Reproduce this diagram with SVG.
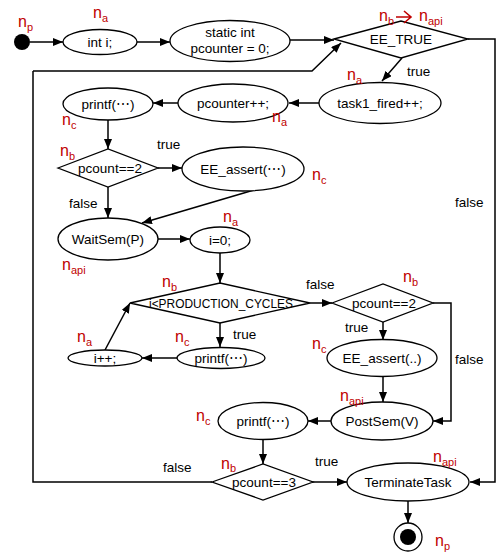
<svg xmlns="http://www.w3.org/2000/svg" width="496" height="552" viewBox="0 0 496 552">
  <defs>
    <marker id="arrow" viewBox="0 0 10 8" refX="10" refY="4" markerWidth="10" markerHeight="8" markerUnits="userSpaceOnUse" orient="auto">
      <path d="M0,0 L10,4 L0,8 Z" fill="#000"/>
    </marker>
    <style>
      .shape { fill: #fff; stroke: #000; stroke-width: 1.3; }
      .edge { fill: none; stroke: #000; stroke-width: 1.5; }
      .arr { marker-end: url(#arrow); }
      .t { font-family: "Liberation Sans", Arial, sans-serif; font-size: 13.5px; fill: #000; text-anchor: middle; }
      .lbl { font-family: "Liberation Sans", Arial, sans-serif; font-size: 13.5px; fill: #000; }
      .red { font-family: "Liberation Sans", Arial, sans-serif; font-size: 16px; fill: #c00000; }
      .sub { font-size: 11px; }
    </style>
  </defs>
  <rect width="496" height="552" fill="#fff"/>

  <!-- connectors -->
  <g id="connectors">
    <line class="edge arr" x1="30" y1="42" x2="63" y2="42"/>
    <line class="edge arr" x1="137" y1="42" x2="170" y2="42"/>
    <line class="edge arr" x1="290" y1="40" x2="334" y2="40"/>
    <path class="edge arr" d="M33,71 L312,71 L341,43"/>
    <line class="edge arr" x1="402" y1="58" x2="382" y2="81"/>
    <line class="edge arr" x1="319" y1="103" x2="289" y2="103"/>
    <line class="edge arr" x1="178" y1="103" x2="153" y2="103"/>
    <line class="edge arr" x1="108" y1="120" x2="108" y2="149"/>
    <line class="edge arr" x1="158" y1="168" x2="182" y2="168"/>
    <line class="edge arr" x1="108" y1="187" x2="108" y2="218"/>
    <line class="edge arr" x1="254" y1="190" x2="142" y2="223"/>
    <line class="edge arr" x1="158" y1="239" x2="190" y2="239"/>
    <line class="edge arr" x1="220" y1="253" x2="220" y2="283"/>
    <line class="edge arr" x1="310" y1="303" x2="332" y2="303"/>
    <line class="edge arr" x1="220" y1="323" x2="220" y2="347"/>
    <line class="edge arr" x1="177" y1="358" x2="142" y2="358"/>
    <line class="edge arr" x1="105" y1="350" x2="130" y2="303"/>
    <line class="edge arr" x1="383" y1="322" x2="383" y2="340"/>
    <path class="edge arr" d="M433,303 L451,303 L451,421 L433,421"/>
    <line class="edge arr" x1="383" y1="377" x2="383" y2="402"/>
    <line class="edge arr" x1="331" y1="421" x2="308" y2="421"/>
    <line class="edge arr" x1="263" y1="439" x2="263" y2="464"/>
    <path class="edge" d="M212,482 L33,482 L33,71"/>
    <line class="edge arr" x1="312" y1="482" x2="347" y2="482"/>
    <path class="edge arr" d="M468,39 L495,39 L495,482 L470,482"/>
    <line class="edge arr" x1="408" y1="501" x2="408" y2="523"/>

    <text class="lbl" x="407" y="76">true</text>
    <text class="lbl" x="455" y="207">false</text>
    <text class="lbl" x="157" y="149">true</text>
    <text class="lbl" x="69" y="208">false</text>
    <text class="lbl" x="306" y="289">false</text>
    <text class="lbl" x="233" y="339">true</text>
    <text class="lbl" x="345" y="332">true</text>
    <text class="lbl" x="455" y="364">false</text>
    <text class="lbl" x="163" y="472">false</text>
    <text class="lbl" x="315" y="466">true</text>
  </g>

  <!-- nodes -->
  <g id="start">
    <circle cx="22" cy="42" r="8" fill="#000"/>
    <text class="red" x="18" y="27">n<tspan class="sub" dy="4">p</tspan></text>
  </g>

  <g id="int-i">
    <ellipse class="shape" cx="100" cy="42" rx="37" ry="12.5"/>
    <text class="t" x="100" y="47">int i;</text>
    <text class="red" x="93" y="18">n<tspan class="sub" dy="4">a</tspan></text>
  </g>

  <g id="static-int">
    <ellipse class="shape" cx="230" cy="41" rx="60" ry="20.5"/>
    <text class="t" x="230" y="37">static int</text>
    <text class="t" x="230" y="53">pcounter = 0;</text>
  </g>

  <g id="ee-true">
    <polygon class="shape" points="334,39 401,21 468,39 401,58"/>
    <text class="t" x="401" y="44">EE_TRUE</text>
    <text class="red" x="379" y="21">n<tspan class="sub" dy="4">b</tspan></text>
    <path d="M396,17 L411,17 M404,11 L411,17 L404,23" fill="none" stroke="#c00000" stroke-width="1.6"/>
    <text class="red" x="419" y="21">n<tspan class="sub" dy="4">api</tspan></text>
  </g>

  <g id="task1-fired">
    <ellipse class="shape" cx="380" cy="103" rx="61" ry="20.5"/>
    <text class="t" x="380" y="108">task1_fired++;</text>
    <text class="red" x="347" y="80">n<tspan class="sub" dy="4">a</tspan></text>
  </g>

  <g id="pcounter-inc">
    <ellipse class="shape" cx="233" cy="103" rx="55" ry="19"/>
    <text class="t" x="233" y="108">pcounter++;</text>
    <text class="red" x="272" y="122">n<tspan class="sub" dy="4">a</tspan></text>
  </g>

  <g id="printf-1">
    <ellipse class="shape" cx="108" cy="104" rx="45" ry="16"/>
    <text class="t" x="108" y="109">printf(⋯)</text>
    <text class="red" x="62" y="125">n<tspan class="sub" dy="4">c</tspan></text>
  </g>

  <g id="pcount-eq2-a">
    <polygon class="shape" points="58,168 108,149 158,168 108,187"/>
    <text class="t" x="110" y="173">pcount==2</text>
    <text class="red" x="60" y="156">n<tspan class="sub" dy="4">b</tspan></text>
  </g>

  <g id="ee-assert-1">
    <ellipse class="shape" cx="243" cy="169" rx="61" ry="22"/>
    <text class="t" x="243" y="174">EE_assert(⋯)</text>
    <text class="red" x="312" y="180">n<tspan class="sub" dy="4">c</tspan></text>
  </g>

  <g id="waitsem">
    <ellipse class="shape" cx="108" cy="239" rx="50" ry="21"/>
    <text class="t" x="108" y="244">WaitSem(P)</text>
    <text class="red" x="62" y="270">n<tspan class="sub" dy="4">api</tspan></text>
  </g>

  <g id="i-zero">
    <ellipse class="shape" cx="220" cy="240" rx="30" ry="13"/>
    <text class="t" x="220" y="245">i=0;</text>
    <text class="red" x="223" y="222">n<tspan class="sub" dy="4">a</tspan></text>
  </g>

  <g id="loop-cond">
    <polygon class="shape" points="130,303 220,283 310,303 220,323"/>
    <text class="t" x="221" y="308" textLength="144" lengthAdjust="spacingAndGlyphs">i&lt;PRODUCTION_CYCLES</text>
    <text class="red" x="162" y="287">n<tspan class="sub" dy="4">b</tspan></text>
  </g>

  <g id="printf-2">
    <ellipse class="shape" cx="221" cy="358" rx="44" ry="10.5"/>
    <text class="t" x="221" y="363">printf(⋯)</text>
    <text class="red" x="175" y="342">n<tspan class="sub" dy="4">c</tspan></text>
  </g>

  <g id="i-inc">
    <ellipse class="shape" cx="105" cy="358" rx="37" ry="8"/>
    <text class="t" x="105" y="363">i++;</text>
    <text class="red" x="77" y="342">n<tspan class="sub" dy="4">a</tspan></text>
  </g>

  <g id="pcount-eq2-b">
    <polygon class="shape" points="332,303 383,284 433,303 383,322"/>
    <text class="t" x="384" y="308">pcount==2</text>
    <text class="red" x="403" y="282">n<tspan class="sub" dy="4">b</tspan></text>
  </g>

  <g id="ee-assert-2">
    <ellipse class="shape" cx="382" cy="358" rx="55" ry="18.5"/>
    <text class="t" x="382" y="363">EE_assert(..)</text>
    <text class="red" x="312" y="349">n<tspan class="sub" dy="4">c</tspan></text>
  </g>

  <g id="postsem">
    <ellipse class="shape" cx="382" cy="421" rx="51" ry="19"/>
    <text class="t" x="382" y="426">PostSem(V)</text>
    <text class="red" x="340" y="401">n<tspan class="sub" dy="4">api</tspan></text>
  </g>

  <g id="printf-3">
    <ellipse class="shape" cx="263" cy="421" rx="45" ry="18.5"/>
    <text class="t" x="263" y="426">printf(⋯)</text>
    <text class="red" x="196" y="421">n<tspan class="sub" dy="4">c</tspan></text>
  </g>

  <g id="pcount-eq3">
    <polygon class="shape" points="212,482 263,464 313,482 263,500"/>
    <text class="t" x="264" y="487">pcount==3</text>
    <text class="red" x="221" y="469">n<tspan class="sub" dy="3">b</tspan></text>
  </g>

  <g id="terminate-task">
    <ellipse class="shape" cx="408" cy="482" rx="61" ry="19"/>
    <text class="t" x="408" y="487">TerminateTask</text>
    <text class="red" x="433" y="462">n<tspan class="sub" dy="4">api</tspan></text>
  </g>

  <g id="end">
    <circle cx="408" cy="537" r="14" fill="#fff" stroke="#000" stroke-width="1.3"/>
    <circle cx="408" cy="537" r="8" fill="#000"/>
    <text class="red" x="435" y="546">n<tspan class="sub" dy="4">p</tspan></text>
  </g>
</svg>
